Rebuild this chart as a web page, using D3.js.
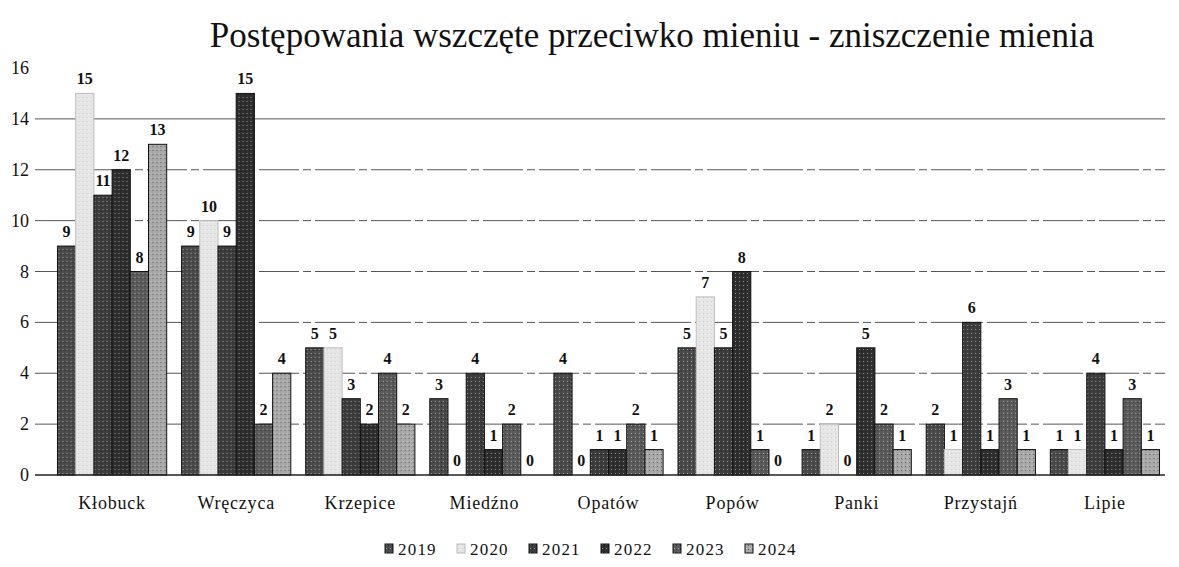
<!DOCTYPE html>
<html>
<head>
<meta charset="utf-8">
<script src="https://cdn.jsdelivr.net/npm/d3@7"></script>
<style>
  body { margin: 0; background: #fff; }
</style>
</head>
<body>
<script>
// data
var gminy = ['Kłobuck', 'Wręczyca', 'Krzepice', 'Miedźno', 'Opatów', 'Popów', 'Panki', 'Przystajń', 'Lipie'];
var lata  = ['2019', '2020', '2021', '2022', '2023', '2024'];
var v2019 = [9, 9, 5, 3, 4, 5, 1, 2, 1];
var v2020 = [15, 10, 5, 0, 0, 7, 2, 1, 1];
var v2021 = [11, 9, 3, 4, 1, 5, 0, 6, 4];
var v2022 = [12, 15, 2, 1, 1, 8, 5, 1, 1];
var v2023 = [8, 2, 4, 2, 2, 1, 2, 3, 3];
var v2024 = [13, 4, 2, 0, 1, 0, 1, 1, 1];
var yTicks = [0, 2, 4, 6, 8, 10, 12, 14, 16];

var series = [v2019, v2020, v2021, v2022, v2023, v2024];
var fills = ['#4a4a4a', '#e6e6e6', '#3c3c3c', '#2e2e2e', '#5a5a5a', '#a8a8a8'];
var serif = '"Liberation Serif"';

// init
var width  = 1179,
    height = 567,
    margin = { top: 68, right: 14, bottom: 92, left: 40 };

var xScale = d3.scaleBand()
    .domain(gminy)
    .range([55, 1162])
    .paddingInner(0.12)
    .paddingOuter(0.02);

var xSub = d3.scaleBand()
    .domain(lata)
    .range([0, xScale.bandwidth()]);

var yScale = d3.scaleLinear()
    .domain([0, 16])
    .range([height - margin.bottom, margin.top]);

var svg = d3.select('body')
    .append('svg')
    .attr('width', width)
    .attr('height', height);

// pattern for a scanned look
var defs = svg.append('defs');
lata.forEach(function (rok, i) {
    var p = defs.append('pattern')
        .attr('id', 'pat' + rok)
        .attr('width', 4)
        .attr('height', 4)
        .attr('patternUnits', 'userSpaceOnUse');
    p.append('rect').attr('width', 4).attr('height', 4).attr('fill', fills[i]);
    p.append('rect').attr('x', 1).attr('y', 1).attr('width', 1).attr('height', 1)
        .attr('fill', i === 1 ? '#bbb' : '#ddd').attr('opacity', 0.6);
    p.append('rect').attr('x', 3).attr('y', 2).attr('width', 1).attr('height', 1)
        .attr('fill', i === 1 ? '#fff' : '#111').attr('opacity', 0.5);
});

// title
svg.append('text')
    .attr('x', 652)
    .attr('y', 47)
    .attr('text-anchor', 'middle')
    .attr('fill', '#111')
    .style('font-family', serif)
    .style('font-size', '35px')
    .text('Postępowania wszczęte przeciwko mieniu - zniszczenie mienia');

// grid lines
svg.append('g')
    .selectAll('line')
    .data(yTicks.filter(function (d) { return d > 0 && d < 16; }))
    .join('line')
    .attr('x1', 35)
    .attr('x2', 1165)
    .attr('y1', function (d) { return yScale(d); })
    .attr('y2', function (d) { return yScale(d); })
    .attr('stroke', '#555')
    .attr('stroke-width', 1)
    .attr('stroke-dasharray', function (d) { return d === 14 ? null : '40,4,8,4'; });

// y-axis labels
svg.append('g')
    .selectAll('text')
    .data(yTicks)
    .join('text')
    .attr('x', 29)
    .attr('y', function (d) { return yScale(d) + 6; })
    .attr('text-anchor', 'end')
    .attr('fill', '#111')
    .style('font-family', serif)
    .style('font-size', '18px')
    .text(function (d) { return d; });

// bars
var groups = svg.append('g')
    .selectAll('g')
    .data(gminy)
    .join('g')
    .attr('transform', function (d) { return 'translate(' + xScale(d) + ',0)'; });

groups.selectAll('rect')
    .data(function (d, gi) {
        return lata.map(function (rok, si) { return { rok: rok, si: si, v: series[si][gi] }; });
    })
    .join('rect')
    .attr('x', function (d) { return xSub(d.rok); })
    .attr('y', function (d) { return yScale(d.v); })
    .attr('width', xSub.bandwidth())
    .attr('height', function (d) { return yScale(0) - yScale(d.v); })
    .attr('fill', function (d) { return 'url(#pat' + d.rok + ')'; })
    .attr('stroke', function (d) { return d.si === 1 ? '#bbb' : '#111'; })
    .attr('stroke-width', 1);

// value labels
groups.selectAll('text')
    .data(function (d, gi) {
        return lata.map(function (rok, si) { return { rok: rok, v: series[si][gi] }; });
    })
    .join('text')
    .attr('x', function (d) { return xSub(d.rok) + xSub.bandwidth() / 2; })
    .attr('y', function (d) { return yScale(d.v) - 9; })
    .attr('text-anchor', 'middle')
    .attr('fill', '#111')
    .style('font-family', serif)
    .style('font-size', '16px')
    .style('font-weight', 'bold')
    .text(function (d) { return d.v; });

// baseline
svg.append('line')
    .attr('x1', 35)
    .attr('x2', 1165)
    .attr('y1', yScale(0))
    .attr('y2', yScale(0))
    .attr('stroke', '#222')
    .attr('stroke-width', 1.5);

// category labels
svg.append('g')
    .selectAll('text')
    .data(gminy)
    .join('text')
    .attr('x', function (d) { return xScale(d) + xScale.bandwidth() / 2; })
    .attr('y', 509)
    .attr('text-anchor', 'middle')
    .attr('fill', '#111')
    .style('font-family', serif)
    .style('font-size', '18px')
    .style('letter-spacing', '0.8px')
    .text(function (d) { return d; });

// legend
var legend = svg.append('g').attr('transform', 'translate(385,555)');
var lx = 0;
lata.forEach(function (rok) {
    var item = legend.append('g').attr('transform', 'translate(' + lx + ',0)');
    item.append('rect')
        .attr('x', 0)
        .attr('y', -11)
        .attr('width', 8)
        .attr('height', 9)
        .attr('fill', 'url(#pat' + rok + ')')
        .attr('stroke', rok === '2020' ? '#bbb' : '#111');
    item.append('text')
        .attr('x', 13)
        .attr('y', 0)
        .attr('fill', '#111')
        .style('font-family', serif)
        .style('font-size', '17px')
        .style('letter-spacing', '1.2px')
        .text(rok);
    lx += 72;
});
</script>
</body>
</html>
